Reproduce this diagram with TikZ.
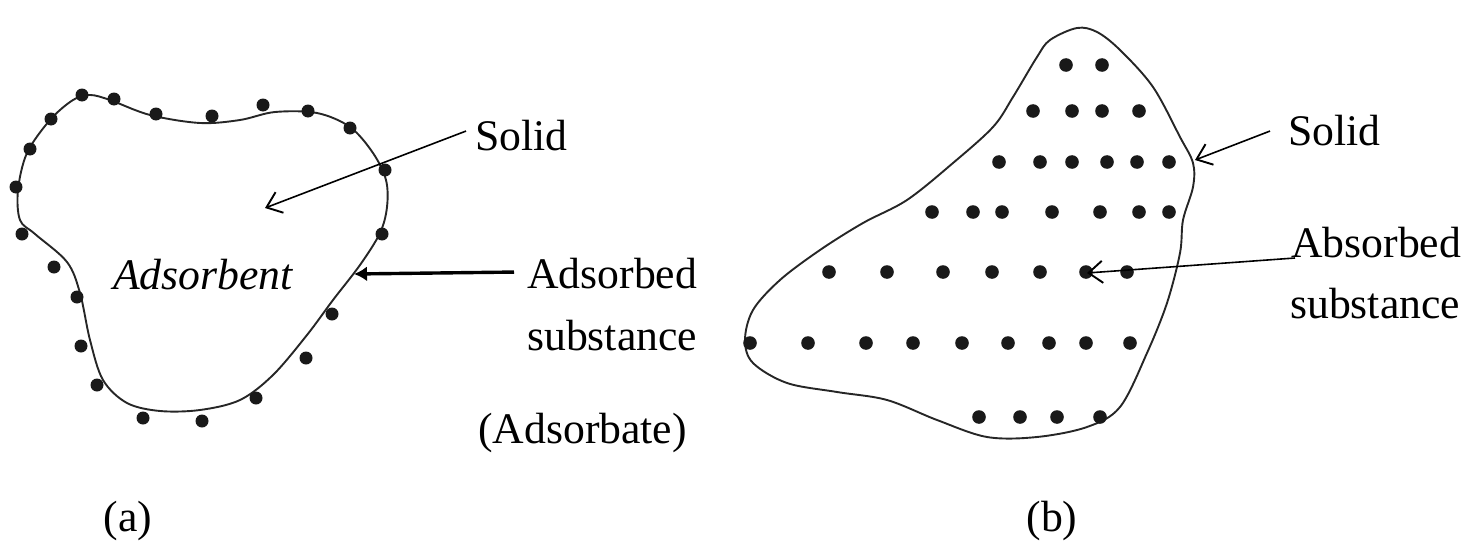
\documentclass[tikz,border=0pt]{standalone}
\usepackage{fontspec}
\setmainfont{Liberation Serif}
\usetikzlibrary{arrows.meta}
\tikzset{
  outline/.style={line width=1.9pt, black!85},
  dot/.style={black!90},
  label/.style={font=\fontsize{43.7}{52}\selectfont, inner sep=0pt},
  thinarrow/.style={line width=1.6pt, -{Straight Barb[length=14pt,width=22pt,line width=1.9pt]}},
  thickarrow/.style={line width=3.4pt, -{Latex[length=13pt,width=15pt]}}
}
\begin{document}
\begin{tikzpicture}[x=1pt,y=-1pt]
\useasboundingbox (0,0) rectangle (1470,554);

% ---------- (a) adsorption on the surface ----------
\draw[outline] plot[smooth cycle, tension=0.55] coordinates {
  (90,95) (110,100) (150,115) (200,123) (240,120) (275,112) (317,113)
  (350,127) (373,153) (386,180) (387,207) (380,233) (360,265) (333,300)
  (307,335) (273,375) (240,400) (200,410) (160,411) (127,403) (103,380)
  (90,340) (80,293) (67,262) (35,234) (20,220) (18,190) (27,153)
  (50,120) (73,100)};
\foreach \p in {(82,95),(114,99),(156,114),(212,116),(263,105),(308,111),
  (350,128),(385,170),(382,234),(332,314),(306,358),(256,398),(202,421),
  (143,418),(97,385),(81,346),(77,297),(54,267),(22,234),(16,187),(30,149),(51,119)}
  \fill[dot] \p circle (6.5);

\node[label, font=\fontsize{43.7}{52}\selectfont\itshape] (adsorbent) at (203,275) {Adsorbent};

\node[label, anchor=base west] (solidA) at (475,150) {Solid};
\coordinate (solidAtip) at (265,208);
\draw[thinarrow] ([xshift=-9pt,yshift=4pt]solidA.west) -- (solidAtip);

\node[label, anchor=base west] (adsA) at (527,288) {Adsorbed};
\node[label, anchor=base west] (adsA2) at (527,350) {substance};
\node[label, anchor=base west] (adsorbate) at (478,443) {(Adsorbate)};
\coordinate (adsAtip) at (354,274);
\draw[thickarrow] ([xshift=-13pt,yshift=1pt]adsA.west) -- (adsAtip);

\node[label] (capA) at (128,521) {(a)};

% ---------- (b) absorption into the bulk ----------
\draw[outline] plot[smooth cycle, tension=0.55] coordinates {
  (1077,28) (1050,40) (1037,57) (1013,97) (993,127) (953,163) (907,200)
  (863,223) (820,250) (780,280) (753,310) (745,340) (753,363) (787,383)
  (837,392) (887,400) (937,420) (987,437) (1037,437) (1087,427)
  (1120,407) (1147,353) (1167,303) (1180,253) (1183,220) (1193,187)
  (1193,163) (1180,137) (1153,87) (1120,50) (1097,32)};

\foreach \x in {1066,1102} \fill[dot] (\x,65) circle (6.8);
\foreach \x in {1033,1072,1102,1139} \fill[dot] (\x,111) circle (6.8);
\foreach \x in {999,1040,1072,1107,1137,1169} \fill[dot] (\x,162) circle (6.8);
\foreach \x in {932,973,1002,1052,1100,1139,1169} \fill[dot] (\x,212) circle (6.8);
\foreach \x in {829,887,943,992,1040,1086,1127} \fill[dot] (\x,272) circle (6.8);
\foreach \x in {750,808,866,913,962,1008,1049,1086,1130} \fill[dot] (\x,343) circle (6.8);
\foreach \x in {979,1020,1057,1100} \fill[dot] (\x,417) circle (6.8);

\node[label, anchor=base west] (solidB) at (1288,145) {Solid};
\coordinate (solidBtip) at (1195,160);
\draw[thinarrow] ([xshift=-18pt,yshift=-1pt]solidB.west) -- (solidBtip);

\node[label, anchor=base west] (absB) at (1291,257) {Absorbed};
\node[label, anchor=base west] (absB2) at (1290,318) {substance};
\coordinate (absBtip) at (1087,273);
\draw[thinarrow] ([xshift=4pt,yshift=-1pt]absB.base west) -- (absBtip);

\node[label] (capB) at (1052,521) {(b)};
\end{tikzpicture}
\end{document}
